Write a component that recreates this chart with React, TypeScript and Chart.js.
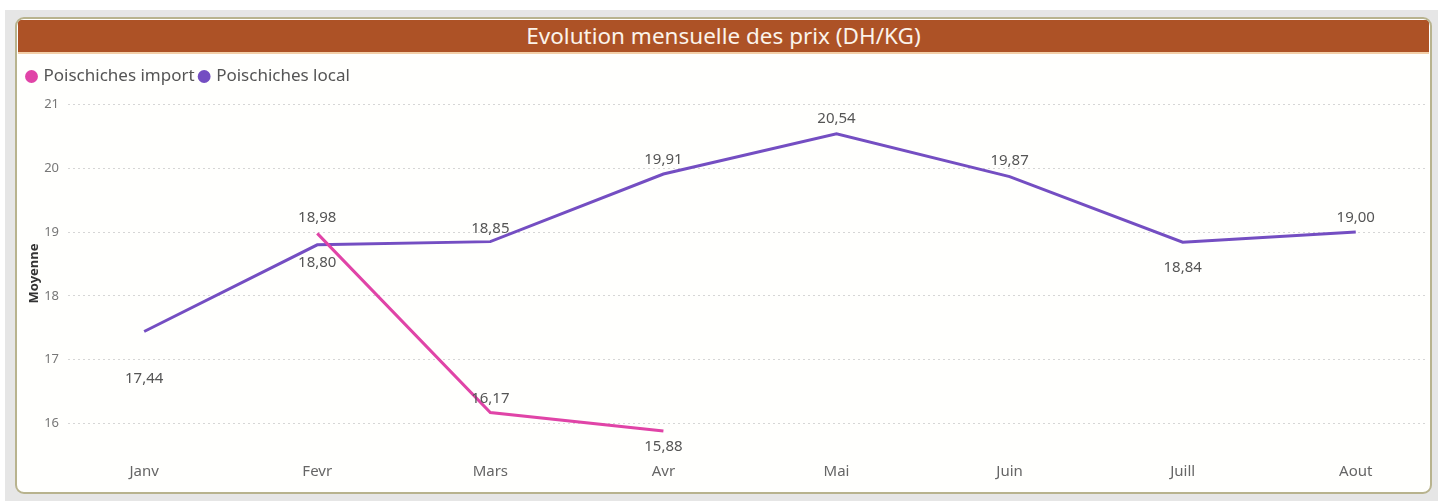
import React, { useEffect, useRef } from "react";
import { Chart, registerables } from "chart.js";

Chart.register(...registerables);

const months = ["Janv", "Fevr", "Mars", "Avr", "Mai", "Juin", "Juill", "Aout"];
const importPrices: (number | null)[] = [null, 18.98, 16.17, 15.88, null, null, null, null];
const localPrices: number[] = [17.44, 18.8, 18.85, 19.91, 20.54, 19.87, 18.84, 19.0];
const yTicks = [16, 17, 18, 19, 20, 21];
// label vertical offsets (px) relative to the point, as placed in the original
const importLabelDy = [0, -16, -14, 16, 0, 0, 0, 0];
const localLabelDy = [47, 18, -13, -14, -15, -16, 25, -14];

const FONT = "'Noto Sans', 'Open Sans', sans-serif";

const labelPlugin = {
  id: "pointLabels",
  afterDatasetsDraw(chart: any) {
    const ctx = chart.ctx;
    ctx.save();
    ctx.font = `15px ${FONT}`;
    ctx.fillStyle = "#555555";
    ctx.textAlign = "center";
    ctx.textBaseline = "middle";
    chart.data.datasets.forEach((ds: any, di: number) => {
      const meta = chart.getDatasetMeta(di);
      const offs = ds.labelDy as number[];
      meta.data.forEach((pt: any, i: number) => {
        const v = ds.data[i]?.y;
        if (v == null) return;
        ctx.fillText(v.toFixed(2).replace(".", ","), pt.x, pt.y + offs[i]);
      });
    });
    ctx.restore();
  },
};

export default function App() {
  const ref = useRef<HTMLCanvasElement>(null);
  useEffect(() => {
    document.body.style.margin = "0";
    const chart = new Chart(ref.current!, {
      type: "line",
      data: {
        datasets: [
          {
            label: "Poischiches import",
            data: importPrices.map((y, i) => ({ x: i, y })),
            borderColor: "#E044A7",
            backgroundColor: "#E044A7",
            borderWidth: 3,
            pointRadius: 0,
            spanGaps: false,
            labelDy: importLabelDy,
          } as any,
          {
            label: "Poischiches local",
            data: localPrices.map((y, i) => ({ x: i, y })),
            borderColor: "#744EC2",
            backgroundColor: "#744EC2",
            borderWidth: 3,
            pointRadius: 0,
            labelDy: localLabelDy,
          } as any,
        ],
      },
      options: {
        animation: false,
        responsive: false,
        maintainAspectRatio: false,
        layout: { padding: { left: 4, right: 3, top: 7, bottom: 0 } },
        plugins: {
          legend: {
            position: "top",
            align: "start",
            labels: {
              usePointStyle: true,
              pointStyle: "circle",
              boxWidth: 7,
              boxHeight: 7,
              padding: 6,
              color: "#555555",
              font: { family: FONT, size: 17 },
            },
          },
          tooltip: { enabled: false },
        },
        scales: {
          x: {
            type: "linear",
            min: -0.44,
            max: 7.4,
            afterBuildTicks: (s: any) => {
              s.ticks = months.map((_, i) => ({ value: i }));
            },
            afterFit: (s: any) => {
              s.height = 38;
            },
            grid: { display: false },
            border: { display: false },
            ticks: {
              padding: 3,
              color: "#666666",
              font: { family: FONT, size: 15 },
              callback: (v: any) => months[v as number],
              maxRotation: 0,
              autoSkip: false,
            },
          },
          y: {
            min: 15.55,
            max: 21.15,
            afterBuildTicks: (s: any) => {
              s.ticks = yTicks.map((v) => ({ value: v }));
            },
            afterFit: (s: any) => {
              s.width = 46;
            },
            border: { display: false, dash: [2, 3] },
            grid: {
              color: "#d6d6d6",
              lineWidth: 1,
              drawTicks: false,
            },
            ticks: {
              padding: 9,
              color: "#777777",
              font: { family: FONT, size: 13 },
              callback: (v: any) => String(v),
            },
            title: {
              display: true,
              text: "Moyenne",
              color: "#333333",
              padding: { top: 4, bottom: 0 },
              font: { family: FONT, size: 13, weight: "bold" },
            },
          },
        },
      },
      plugins: [labelPlugin],
    } as any);
    return () => chart.destroy();
  }, []);

  return (
    <div style={{ position: "relative", width: 1438, height: 501, background: "#ffffff", overflow: "hidden" }}>
      <div style={{ position: "absolute", left: 5, top: 10, right: 0, bottom: 0, background: "#e6e6e6" }} />
      <div
        style={{
          position: "absolute",
          left: 15,
          top: 17,
          width: 1413,
          height: 473,
          border: "2px solid #b8b38e",
          borderRadius: 9,
          background: "#fffffd",
          overflow: "hidden",
        }}
      >
        <div
          style={{
            position: "absolute",
            left: 1,
            top: 1,
            right: 1,
            height: 32,
            background: "#AD5226",
            borderBottom: "2px solid #f3cfa8",
            color: "#fbf3ea",
            fontFamily: FONT,
            fontSize: 22.5,
            lineHeight: "32px",
            textAlign: "center",
          }}
        >
          Evolution mensuelle des prix (DH/KG)
        </div>
      </div>
      <canvas
        ref={ref}
        width={1410}
        height={435}
        style={{ position: "absolute", left: 18, top: 55, width: 1410, height: 435 }}
      />
    </div>
  );
}
